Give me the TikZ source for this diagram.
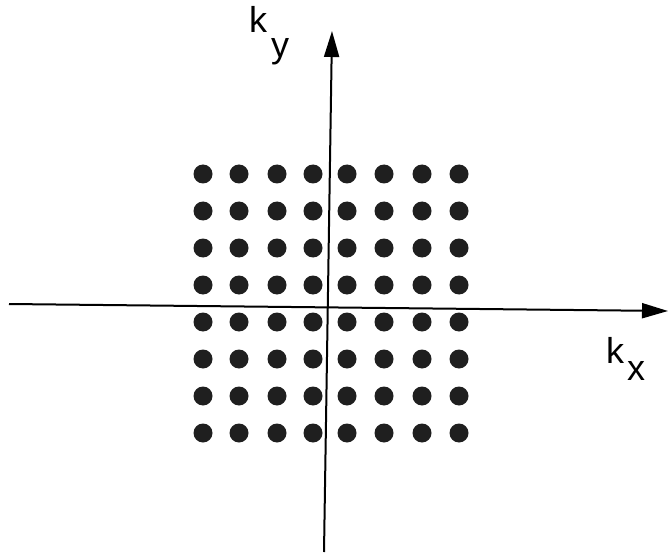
\documentclass[tikz,border=0pt]{standalone}
\usepackage{fontspec}
\setmainfont{Liberation Sans}
\usetikzlibrary{arrows.meta}
\begin{document}
\begin{tikzpicture}[x=1pt,y=-1pt,
  dotnode/.style={circle,fill=black!88,inner sep=0pt,minimum size=19pt},
  axisline/.style={line width=2pt,-{Triangle[length=26pt,width=15pt]}},
  lbl/.style={anchor=base west,inner sep=0pt,font=\fontsize{36}{36}\selectfont}]
\useasboundingbox (0,0) rectangle (669,556);
% axes
\coordinate (xs) at (9,304);
\coordinate (xe) at (668,311);
\coordinate (ys) at (324,552);
\coordinate (ye) at (332,31);
\draw[axisline] (xs) -- (xe);
\draw[axisline] (ys) -- (ye);
% dots
\foreach \x [count=\i] in {203,239,277,313,347,384,422,459}{
  \foreach \y [count=\j] in {174,211,248,285,322,359,396,433}{
    \node[dotnode] (d-\i-\j) at (\x,\y) {};
  }
}
% labels
\node[lbl] (ky) at (249,33) {k\hspace{4pt}\raisebox{-25pt}{y}};
\node[lbl] (kx) at (606,363) {k\hspace{3pt}\raisebox{-17pt}{x}};
\end{tikzpicture}
\end{document}
